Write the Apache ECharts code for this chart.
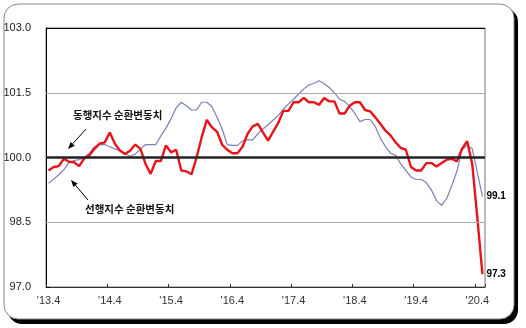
<!DOCTYPE html>
<html><head><meta charset="utf-8">
<script src="https://cdn.jsdelivr.net/npm/echarts@6/dist/echarts.min.js"></script>
<style>html,body{margin:0;padding:0;background:#fff}#c{width:526px;height:328px}</style>
</head><body><div id="c"></div>
<script>
// months: '13.4 ... '20.5
const months = [
"'13.4","'13.5","'13.6","'13.7","'13.8","'13.9","'13.10","'13.11","'13.12",
"'14.1","'14.2","'14.3","'14.4","'14.5","'14.6","'14.7","'14.8","'14.9","'14.10","'14.11","'14.12",
"'15.1","'15.2","'15.3","'15.4","'15.5","'15.6","'15.7","'15.8","'15.9","'15.10","'15.11","'15.12",
"'16.1","'16.2","'16.3","'16.4","'16.5","'16.6","'16.7","'16.8","'16.9","'16.10","'16.11","'16.12",
"'17.1","'17.2","'17.3","'17.4","'17.5","'17.6","'17.7","'17.8","'17.9","'17.10","'17.11","'17.12",
"'18.1","'18.2","'18.3","'18.4","'18.5","'18.6","'18.7","'18.8","'18.9","'18.10","'18.11","'18.12",
"'19.1","'19.2","'19.3","'19.4","'19.5","'19.6","'19.7","'19.8","'19.9","'19.10","'19.11","'19.12",
"'20.1","'20.2","'20.3","'20.4","'20.5"
];
// 동행지수 순환변동치 (red)
const coincident = [
99.70,99.78,99.80,99.97,99.90,99.89,99.80,99.98,100.05,100.20,
100.32,100.35,100.58,100.32,100.16,100.08,100.16,100.30,100.20,99.85,
99.62,99.92,99.92,100.28,100.12,100.18,99.70,99.68,99.61,100.00,
100.47,100.87,100.70,100.60,100.30,100.18,100.10,100.10,100.25,100.55,
100.72,100.78,100.58,100.39,100.60,100.80,101.08,101.08,101.28,101.28,
101.38,101.28,101.28,101.22,101.38,101.30,101.30,101.02,101.02,101.20,
101.28,101.28,101.10,101.07,100.93,100.78,100.62,100.51,100.35,100.22,
100.18,99.78,99.70,99.70,99.87,99.87,99.79,99.87,99.95,99.97,
99.91,100.20,100.38,99.85,98.60,97.30
];
// 선행지수 순환변동치 (blue)
const leading = [
99.40,99.50,99.60,99.72,99.88,99.93,99.95,100.00,100.10,100.25,
100.30,100.30,100.25,100.20,100.15,100.08,100.03,100.08,100.20,100.30,
100.30,100.30,100.50,100.68,100.90,101.15,101.28,101.20,101.10,101.10,
101.28,101.28,101.18,100.93,100.66,100.30,100.28,100.28,100.38,100.41,
100.41,100.55,100.66,100.76,100.87,100.97,101.12,101.24,101.35,101.47,
101.59,101.68,101.72,101.78,101.71,101.62,101.50,101.35,101.30,101.18,
101.02,100.83,100.88,100.88,100.72,100.45,100.25,100.10,100.05,99.85,
99.70,99.55,99.49,99.49,99.42,99.25,99.00,98.89,99.05,99.35,
99.68,100.18,100.28,100.20,99.65,99.10
];
const yTicks = [97.0, 98.5, 100.0, 101.5, 103.0];
const gridLines = [98.5, 101.5];
const baseLine = 100.0;
const topLine = 103.0;
const labelCoincident = '동행지수 순환변동치';
const labelLeading = '선행지수 순환변동치';

const chart = echarts.init(document.getElementById('c'), null, {renderer: 'canvas'});
const numFont = 'Liberation Sans, Arial, sans-serif';
const krFont = 'Noto Sans CJK KR, sans-serif';

chart.setOption({
  animation: false,
  backgroundColor: '#fff',
  grid: {left: 46, right: 41, top: 28, bottom: 41, show: true, borderColor: '#777', borderWidth: 1, backgroundColor: 'transparent'},
  xAxis: {
    type: 'category', data: months, boundaryGap: true,
    axisLine: {lineStyle: {color: '#333', width: 1}},
    axisTick: {show: true, inside: true, length: 3, interval: 11, lineStyle: {color: '#333'}},
    axisLabel: {interval: 11, color: '#333', fontSize: 11, fontFamily: numFont, margin: 8},
    splitLine: {show: false}
  },
  yAxis: {
    type: 'value', min: 97, max: 103,
    axisLine: {show: true, lineStyle: {color: '#000', width: 1}},
    axisTick: {show: true, inside: true, length: 4, customValues: yTicks, lineStyle: {color: '#000'}},
    axisLabel: {customValues: yTicks, color: '#222', fontSize: 11, fontFamily: numFont, margin: 15,
      formatter: v => v.toFixed(1)},
    splitLine: {show: false}
  },
  graphic: [
    {type: 'rect', z: -20, silent: true, shape: {x: 8, y: 8, width: 510, height: 316, r: 14}, style: {fill: '#000'}},
    {type: 'rect', z: -19, silent: true, shape: {x: 4, y: 4, width: 510, height: 315, r: 14}, style: {fill: '#fff', stroke: '#888', lineWidth: 1}},
    {type: 'text', z: 50, left: 73, top: 110, style: {text: labelCoincident, font: 'bold 10.5px ' + krFont, fill: '#111'}},
    {type: 'text', z: 50, left: 85, top: 204, style: {text: labelLeading, font: 'bold 10.5px ' + krFont, fill: '#111'}},
    {type: 'polyline', z: 50, shape: {points: [[86,129],[72.7,143.8]]}, style: {stroke: '#000', lineWidth: 1}},
    {type: 'polygon', z: 50, shape: {points: [[68,149],[74.8,145.7],[70.6,141.9]]}, style: {fill: '#000'}},
    {type: 'polyline', z: 50, shape: {points: [[88,200],[75.5,185.3]]}, style: {stroke: '#000', lineWidth: 1}},
    {type: 'polygon', z: 50, shape: {points: [[71,180],[77.6,183.5],[73.4,187.1]]}, style: {fill: '#000'}}
  ],
  series: [
    {
      type: 'line', data: [], z: 1, silent: true,
      markLine: {
        silent: true, symbol: ['none', 'none'], label: {show: false}, animation: false,
        data: [
          {yAxis: gridLines[0], lineStyle: {color: '#aaa', width: 1, type: 'solid'}},
          {yAxis: gridLines[1], lineStyle: {color: '#aaa', width: 1, type: 'solid'}},
          {yAxis: topLine, lineStyle: {color: '#000', width: 1, type: 'solid'}},
          {yAxis: baseLine, lineStyle: {color: '#222', width: 2.5, type: 'solid'}}
        ]
      }
    },
    {
      name: labelLeading, type: 'line', data: leading, z: 3, symbol: 'none', smooth: false,
      lineStyle: {color: '#7b80b8', width: 1.2},
      endLabel: {show: true, formatter: p => Number(p.value).toFixed(1), color: '#000', fontWeight: 'bold', fontSize: 10, fontFamily: numFont, distance: 4}
    },
    {
      name: labelCoincident, type: 'line', data: coincident, z: 4, symbol: 'none', smooth: false,
      lineStyle: {color: '#e8141c', width: 2.4},
      endLabel: {show: true, formatter: p => Number(p.value).toFixed(1), color: '#000', fontWeight: 'bold', fontSize: 10, fontFamily: numFont, distance: 4}
    }
  ]
});
</script></body></html>
